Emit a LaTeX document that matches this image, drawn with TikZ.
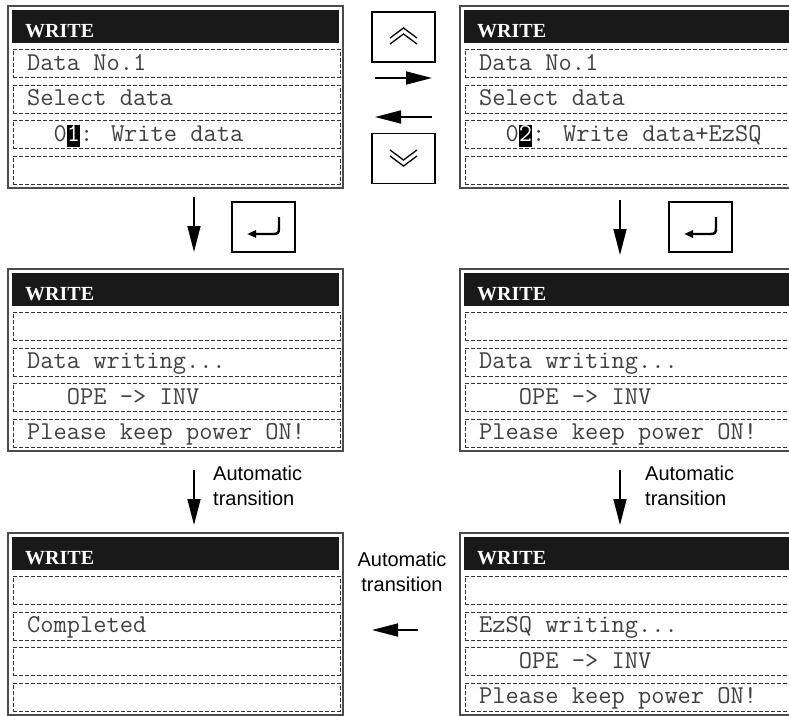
\documentclass[tikz,border=0pt]{standalone}
\usepackage{fontspec}
\setmainfont{Liberation Sans}
\newfontfamily\headfont{Liberation Serif}
\usetikzlibrary{arrows.meta}

% highlighted cursor digit
\newcommand\lcdcursor[1]{{\setlength\fboxsep{0pt}\colorbox{black}{\textcolor{white}{\rule[-6pt]{0pt}{20pt}#1}}}}

% one dashed line of the display
\newcommand\lcdrow[4]{%
  \node[lcdrowbox, anchor=north west] (#1) at (#2+5,#3) {};
  \node[lcdtext, anchor=base west] (#1-x) at (#2+19,#3+21) {#4};}

% whole display: name, x, y, four lines
\newcommand\lcdpanel[7]{%
  \node[lcdframe, anchor=north west] (#1) at (#2,#3) {};
  \node[lcdtitle, anchor=north west] (#1-t) at (#2+4,#3+4) {};
  \node[lcdhead, anchor=base west] (#1-h) at (#2+17,#3+31) {WRITE};
  \lcdrow{#1-1}{#2}{#3+43}{#4}
  \lcdrow{#1-2}{#2}{#3+78.5}{#5}
  \lcdrow{#1-3}{#2}{#3+114}{#6}
  \lcdrow{#1-4}{#2}{#3+149.5}{#7}}

\begin{document}
\begin{tikzpicture}[x=1pt,y=-1pt,
  lcdframe/.style={draw=black!70, line width=1.2pt, minimum width=335pt, minimum height=182pt, inner sep=0pt, outer sep=0pt},
  lcdtitle/.style={fill=black!90, minimum width=327pt, minimum height=33pt, inner sep=0pt},
  lcdhead/.style={text=white, inner sep=0pt, font=\headfont\bfseries\fontsize{20}{24}\selectfont},
  lcdrowbox/.style={draw=black!80, line width=0.8pt, dash pattern=on 4pt off 2pt, minimum width=327pt, minimum height=28pt, inner sep=0pt},
  lcdtext/.style={text=black!75, inner sep=0pt, font=\ttfamily\fontsize{25.7}{28}\selectfont},
  keybox/.style={draw, line width=1.8pt, minimum width=63pt, minimum height=50pt, inner sep=0pt},
  flow/.style={line width=1.6pt, -{Triangle[length=26pt,width=13pt]}},
  chev/.style={line width=1.3pt},
  enter/.style={line width=2.4pt, -{Triangle[length=9pt,width=7pt]}},
  autolabel/.style={inner sep=0pt, font=\fontsize{20}{24.5}\selectfont}]
\useasboundingbox (0,0) rectangle (789,715);
\clip (0,0) rectangle (789,715);

% displays
\lcdpanel{sel1}{8}{6}{Data No.1}{Select data}{\phantom{00}0\lcdcursor{1}: Write data}{}
\lcdpanel{sel2}{460}{6}{Data No.1}{Select data}{\phantom{00}0\lcdcursor{2}: Write data+EzSQ}{}
\lcdpanel{wr1}{8}{269}{}{Data writing...}{\phantom{000}OPE -> INV}{Please keep power ON!}
\lcdpanel{wr2}{460}{269}{}{Data writing...}{\phantom{000}OPE -> INV}{Please keep power ON!}
\lcdpanel{done}{8}{533}{}{Completed}{}{}
\lcdpanel{ezsq}{460}{533}{}{EzSQ writing...}{\phantom{000}OPE -> INV}{Please keep power ON!}

% keys
\node[keybox] (up) at (403.5,37) {};
\node[keybox] (dn) at (403.5,158.5) {};
\node[keybox] (ent1) at (263.5,227) {};
\node[keybox] (ent2) at (700.5,227) {};
\foreach \d in {0,6} {
  \draw[chev] ([shift={(-13.5,1+\d)}]up.center) -- ([shift={(0,-9+\d)}]up.center) -- ([shift={(13.5,1+\d)}]up.center);
  \draw[chev] ([shift={(-13.5,-8.5+\d)}]dn.center) -- ([shift={(0,1.5+\d)}]dn.center) -- ([shift={(13.5,-8.5+\d)}]dn.center);
}
\foreach \k in {ent1,ent2}
  \draw[enter] ([shift={(15.5,-10)}]\k.center) -- ++(0,11) .. controls +(0,5) and +(5,0) .. ++(-6,6) -- ++(-26,0);

% transitions
\coordinate (a0) at (375,78);  \coordinate (a1) at (432,78);
\coordinate (b0) at (432,117); \coordinate (b1) at (375,117);
\coordinate (c0) at (194,197); \coordinate (c1) at (194,252);
\coordinate (d0) at (620,200); \coordinate (d1) at (620,255);
\coordinate (e0) at (194,470); \coordinate (e1) at (194,525);
\coordinate (f0) at (620,470); \coordinate (f1) at (620,525);
\coordinate (g0) at (418,630); \coordinate (g1) at (372,630);
\draw[flow] (a0) -- (a1);
\draw[flow] (b0) -- (b1);
\draw[flow] (c0) -- (c1);
\draw[flow] (d0) -- (d1);
\draw[flow] (e0) -- (e1);
\draw[flow] (f0) -- (f1);
\draw[flow] (g0) -- (g1);

\node[autolabel, align=left, anchor=north west] (t1) at (213,466) {Automatic\\transition};
\node[autolabel, align=left, anchor=north west] (t2) at (645,466) {Automatic\\transition};
\node[autolabel, align=center, anchor=north] (t3) at (402,552) {Automatic\\transition};
\end{tikzpicture}
\end{document}
